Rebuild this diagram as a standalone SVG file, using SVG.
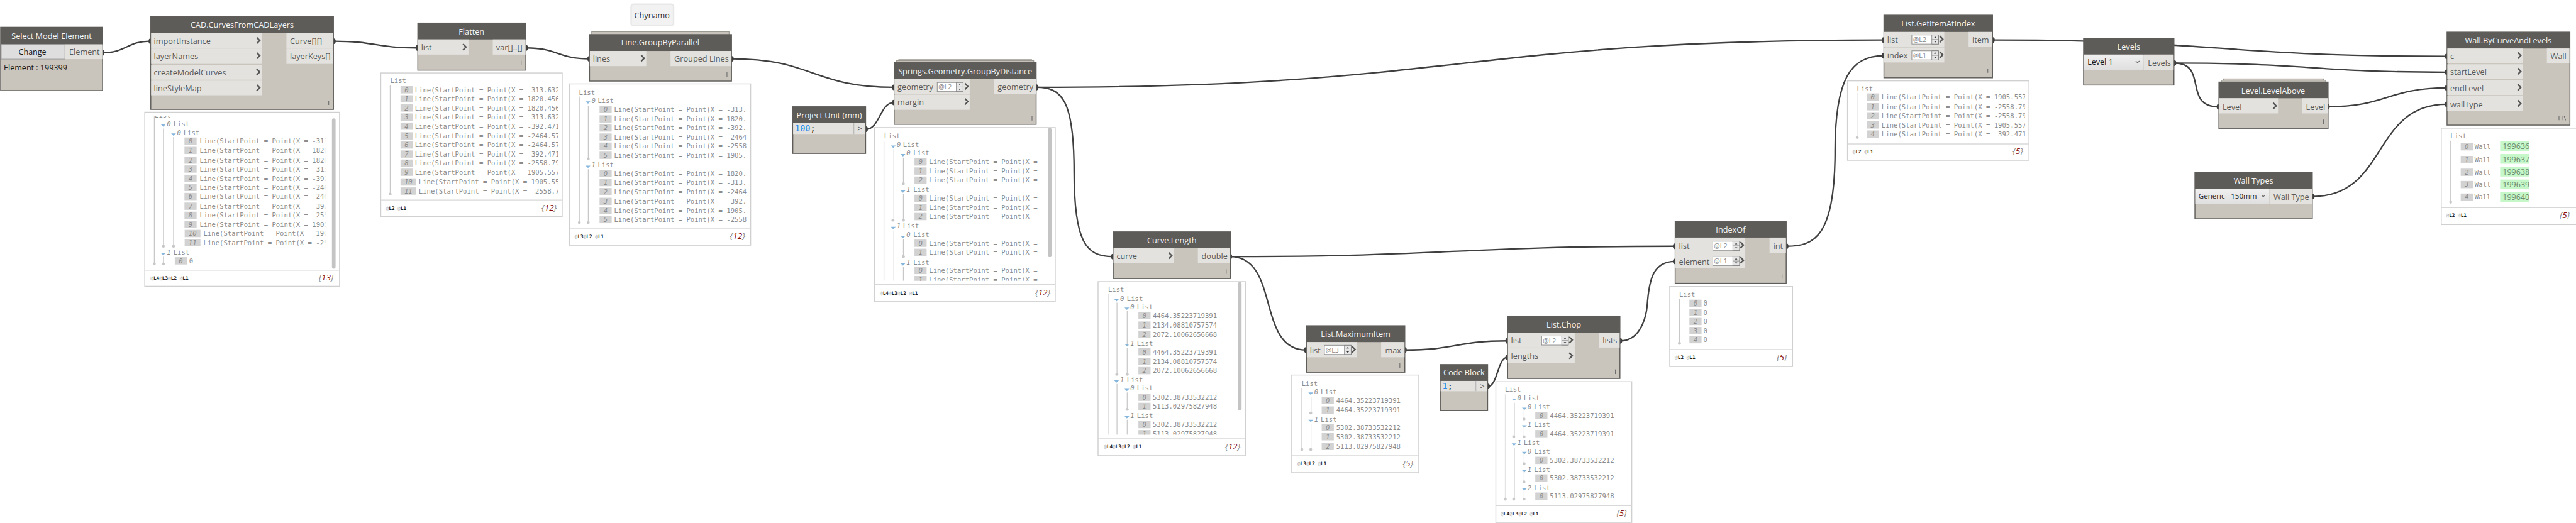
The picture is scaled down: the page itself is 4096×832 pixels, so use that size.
<svg xmlns="http://www.w3.org/2000/svg" width="4096" height="832" viewBox="0 0 4096 832">
<style>
text{white-space:pre}
.b{fill:#c9c5bd;stroke:#5e5c59;stroke-width:1.5}
.s{fill:#c9c5bd;stroke:#9b988f;stroke-width:1.2}
.hd{fill:#5e5c59}
.r{fill:#e3e2de}
.h{font:500 13.2px "Open Sans",sans-serif;fill:#f5f5f5;text-anchor:middle}
.p{font:13.2px "Open Sans",sans-serif;fill:#5a5a5a}
.k{font:13px "Open Sans",sans-serif;fill:#1c1c1c}
.w{fill:#fff;stroke:#d0d0d0;stroke-width:1.5}
.fl{stroke:#d8d8d8;stroke-width:1.5;fill:none}
.m{font:11px "DejaVu Sans Mono",monospace;fill:#8c8c8c}
.n{font:italic 11px "DejaVu Sans Mono",monospace;fill:#8c8c8c;text-anchor:middle}
.f{font:bold 8px "DejaVu Sans Mono",monospace;fill:#222}
.f tspan{fill:#aaa;font-weight:normal}
.c{font:italic 14px "Open Sans",sans-serif;fill:#888;text-anchor:end}
.c tspan{fill:#8b1010}
.v{stroke:#c8c8c8;stroke-width:1.3;fill:none}
.vl{stroke:#e4e4e4;stroke-width:1.3;fill:none}
.lv{fill:#fff;stroke:#8c8c8c;stroke-width:1}
.lt{font:11px "Open Sans",sans-serif;fill:#8a8a8a}
.cd{font:14px "DejaVu Sans Mono",monospace;fill:#222}
.cd tspan{fill:#2a86ee}
.g{fill:#c5f7c8}
.gt{font:13px "Open Sans",sans-serif;fill:#6c8a70}
.lace{stroke:#6e6e6e;stroke-width:1.2;fill:none}
.cn{fill:none;stroke:#3f3f3f;stroke-width:2.4;marker-start:url(#nub);marker-end:url(#nub)}
.sb{fill:#c4c4c4}
</style>
<defs>
<marker id="nub" markerUnits="userSpaceOnUse" markerWidth="10" markerHeight="12" refX="5" refY="6" orient="0"><ellipse cx="5" cy="6" rx="3.2" ry="4.6" fill="#3f3f3f"/></marker>
<path id="chev" d="M-3 -5L2 0L-3 5" fill="none" stroke="#555" stroke-width="2.4"/>
<path id="tri" d="M-4 0H4L0 4Z" fill="#86b6dc"/>
<circle id="d" r="2.4" fill="#c8c8c8"/>
<rect id="ib" x="-10" y="-6" width="20" height="12" fill="#d2d2d2"/>
<rect id="ib2" x="-13" y="-6" width="26" height="12" fill="#d2d2d2"/>
<g id="spin"><rect x="0" y="0" width="11" height="15" fill="#e6e6e6" stroke="#777" stroke-width=".8"/><path d="M0 7.500H11" stroke="#777" stroke-width=".8"/><path d="M3.500 5L5.500 2.500L7.500 5ZM3.500 10L5.500 12.500L7.500 10Z" fill="#333"/></g>
<path id="vee" d="M-3 -1.500L0 1.500L3 -1.500" fill="none" stroke="#666" stroke-width="1.2"/>
<linearGradient id="dd" x1="0" y1="0" x2="0" y2="1"><stop offset="0" stop-color="#f0f0f0"/><stop offset="1" stop-color="#dfdfdf"/></linearGradient>
<clipPath id="c1"><rect x="240" y="191.500" width="296" height="250"/></clipPath>
<clipPath id="c2"><rect x="630" y="125" width="290" height="200"/></clipPath>
<clipPath id="c3"><rect x="940" y="140" width="291" height="235"/></clipPath>
<clipPath id="c4"><rect x="1443" y="212" width="270" height="251"/></clipPath>
<clipPath id="c5"><rect x="1811" y="466" width="225" height="250.700"/></clipPath>
<clipPath id="c6"><rect x="3046" y="135" width="291" height="100"/></clipPath>
</defs>
<g transform="scale(0.9649)">
<g id="connectors">
<path class="cn" d="M169 87C208 87 209 68 248 68"/>
<path class="cn" d="M550 68C619 68 619 79 688 79"/>
<path class="cn" d="M867 79C919 79 919 97 971 97"/>
<path class="cn" d="M1206 97C1340 97 1340 144 1473 144"/>
<path class="cn" d="M1427 213C1450 213 1450 169 1473 169"/>
<path class="cn" d="M1708 144C2406 144 2406 66 3104 66"/>
<path class="cn" d="M1708 144C1750 144 1770 165 1770 283C1770 400 1790 423 1834 423"/>
<path class="cn" d="M2027 423C2394 423 2394 406 2760 406"/>
<path class="cn" d="M2027 423C2110 423 2070 577 2152 577"/>
<path class="cn" d="M2315 577C2400 577 2400 562 2484 562"/>
<path class="cn" d="M2452 637C2468 637 2468 589 2484 589"/>
<path class="cn" d="M2670 562C2700 562 2713 530 2715 497C2718 460 2725 431 2760 431"/>
<path class="cn" d="M2944 406C2990 406 3024 390 3024 249C3024 130 3050 92 3104 92"/>
<path class="cn" d="M3284 66C3658 66 3658 93 4032 93"/>
<path class="cn" d="M3583 104C3808 104 3808 119 4032 119"/>
<path class="cn" d="M3583 104C3640 104 3596 176 3656 176"/>
<path class="cn" d="M3836 176C3934 176 3934 145 4032 145"/>
<path class="cn" d="M3811 324C3935 324 3908 172 4032 172"/>
</g>

<g id="select-model-element">
<rect class="b" x="1" y="45" width="168" height="104.300"/><rect class="hd" x="1" y="45" width="168" height="28.200"/>
<rect x="2" y="73.200" width="105" height="24.300" fill="#dedede" stroke="#999" stroke-width="1"/><rect class="r" x="107.500" y="73.200" width="61" height="24.300"/>
<text class="h" x="85" y="64">Select Model Element</text>
<text class="k" x="53.500" y="90.500" text-anchor="middle">Change</text>
<text class="p" x="114" y="90.500">Element</text>
<text class="k" x="6.300" y="116.500">Element : 199399</text>
</g>

<g id="cad-curves">
<rect class="b" x="248.500" y="27.100" width="301" height="153.300"/><rect class="hd" x="248.500" y="27.100" width="301" height="26.800"/>
<rect class="r" x="249" y="53.900" width="183" height="25.400"/><rect class="r" x="249" y="80" width="183" height="25.400"/><rect class="r" x="249" y="107" width="183" height="24.400"/><rect class="r" x="249" y="132.900" width="183" height="24.200"/>
<rect class="r" x="472" y="53.900" width="77" height="25.400"/><rect class="r" x="472" y="80" width="77" height="25.400"/>
<text class="h" x="399" y="46">CAD.CurvesFromCADLayers</text>
<text class="p" x="253.500" y="72.500">importInstance</text><text class="p" x="253.500" y="97.500">layerNames</text><text class="p" x="253.500" y="124">createModelCurves</text><text class="p" x="253.500" y="150">lineStyleMap</text>
<use href="#chev" x="426" y="66.800"/><use href="#chev" x="426" y="91.800"/><use href="#chev" x="426" y="118.600"/><use href="#chev" x="426" y="144.600"/>
<text class="p" x="477.700" y="72.500">Curve[][]</text><text class="p" x="477.700" y="97.500">layerKeys[]</text>
<path class="lace" d="M541.700 166V173"/>
</g>
<g id="cad-watch">
<rect class="w" x="238.500" y="185" width="321" height="287"/><path class="fl" d="M238.500 445.300H559.500"/>
<g clip-path="url(#c1)">
<text class="m" x="255" y="194">List</text>
<path class="v" d="M254.300 192V435M269.300 212V406M286 226V406M269.300 423V435"/>
<use href="#d" x="269.300" y="406"/><use href="#d" x="286" y="406"/><use href="#d" x="254.300" y="435"/><use href="#d" x="269.300" y="435"/>
<use href="#tri" x="269" y="205"/><text class="n" x="278.300" y="208">0</text><text class="m" x="285.700" y="208">List</text>
<use href="#tri" x="286" y="220"/><text class="n" x="295" y="223">0</text><text class="m" x="302.300" y="223">List</text>
<use href="#ib" x="314" y="232.700"/><text class="n" x="314" y="236.700">0</text><text class="m" x="329" y="236.700">Line(StartPoint = Point(X = -313</text>
<use href="#ib" x="314" y="248"/><text class="n" x="314" y="252">1</text><text class="m" x="329" y="252">Line(StartPoint = Point(X = 1820</text>
<use href="#ib" x="314" y="264"/><text class="n" x="314" y="268">2</text><text class="m" x="329" y="268">Line(StartPoint = Point(X = 1820</text>
<use href="#ib" x="314" y="278.700"/><text class="n" x="314" y="282.700">3</text><text class="m" x="329" y="282.700">Line(StartPoint = Point(X = -313</text>
<use href="#ib" x="314" y="294"/><text class="n" x="314" y="298">4</text><text class="m" x="329" y="298">Line(StartPoint = Point(X = -392</text>
<use href="#ib" x="314" y="309"/><text class="n" x="314" y="313">5</text><text class="m" x="329" y="313">Line(StartPoint = Point(X = -246</text>
<use href="#ib" x="314" y="324"/><text class="n" x="314" y="328">6</text><text class="m" x="329" y="328">Line(StartPoint = Point(X = -246</text>
<use href="#ib" x="314" y="340"/><text class="n" x="314" y="344">7</text><text class="m" x="329" y="344">Line(StartPoint = Point(X = -392</text>
<use href="#ib" x="314" y="355"/><text class="n" x="314" y="359">8</text><text class="m" x="329" y="359">Line(StartPoint = Point(X = -255</text>
<use href="#ib" x="314" y="370"/><text class="n" x="314" y="374">9</text><text class="m" x="329" y="374">Line(StartPoint = Point(X = 1905</text>
<use href="#ib2" x="317.300" y="385"/><text class="n" x="317.300" y="389">10</text><text class="m" x="335.300" y="389">Line(StartPoint = Point(X = 190</text>
<use href="#ib2" x="317.300" y="400"/><text class="n" x="317.300" y="404">11</text><text class="m" x="335.300" y="404">Line(StartPoint = Point(X = -25</text>
<use href="#tri" x="269" y="417"/><text class="n" x="278.300" y="420">1</text><text class="m" x="285.700" y="420">List</text>
<use href="#ib" x="298" y="430"/><text class="n" x="298" y="434">0</text><text class="m" x="311.700" y="434">0</text>
</g>
<rect class="sb" x="547" y="195" width="6" height="248" rx="3"/>
<text class="f" x="248" y="461"><tspan>@</tspan>L4<tspan>@</tspan>L3<tspan>@</tspan>L2 <tspan>@</tspan>L1</text>
<text class="c" x="550" y="462">{<tspan>13</tspan>}</text>
</g>

<g id="flatten">
<rect class="b" x="688.500" y="38" width="178" height="77.700"/><rect class="hd" x="688.500" y="38" width="178" height="27"/>
<rect class="r" x="689" y="65" width="83" height="25"/><rect class="r" x="812" y="65" width="54" height="25"/>
<text class="h" x="777" y="57">Flatten</text>
<text class="p" x="694" y="83">list</text><use href="#chev" x="766" y="77.500"/><text class="p" x="817.500" y="83">var[]..[]</text>
<path class="lace" d="M858.800 100V107.700"/>
</g>
<g id="flatten-watch">
<rect class="w" x="627.500" y="120.300" width="299" height="237"/><path class="fl" d="M627.500 329.700H926.500"/>
<text class="m" x="643" y="137">List</text>
<path class="v" d="M643 141V320"/><use href="#d" x="643" y="320"/>
<g clip-path="url(#c2)">
<use href="#ib" x="670" y="148"/><text class="n" x="670" y="152">0</text><text class="m" x="683.700" y="152">Line(StartPoint = Point(X = -313.632</text>
<use href="#ib" x="670" y="163"/><text class="n" x="670" y="167">1</text><text class="m" x="683.700" y="167">Line(StartPoint = Point(X = 1820.456</text>
<use href="#ib" x="670" y="178"/><text class="n" x="670" y="182">2</text><text class="m" x="683.700" y="182">Line(StartPoint = Point(X = 1820.456</text>
<use href="#ib" x="670" y="193"/><text class="n" x="670" y="197">3</text><text class="m" x="683.700" y="197">Line(StartPoint = Point(X = -313.632</text>
<use href="#ib" x="670" y="208"/><text class="n" x="670" y="212">4</text><text class="m" x="683.700" y="212">Line(StartPoint = Point(X = -392.471</text>
<use href="#ib" x="670" y="224"/><text class="n" x="670" y="228">5</text><text class="m" x="683.700" y="228">Line(StartPoint = Point(X = -2464.57</text>
<use href="#ib" x="670" y="239"/><text class="n" x="670" y="243">6</text><text class="m" x="683.700" y="243">Line(StartPoint = Point(X = -2464.57</text>
<use href="#ib" x="670" y="254"/><text class="n" x="670" y="258">7</text><text class="m" x="683.700" y="258">Line(StartPoint = Point(X = -392.471</text>
<use href="#ib" x="670" y="269"/><text class="n" x="670" y="273">8</text><text class="m" x="683.700" y="273">Line(StartPoint = Point(X = -2558.79</text>
<use href="#ib" x="670" y="284"/><text class="n" x="670" y="288">9</text><text class="m" x="683.700" y="288">Line(StartPoint = Point(X = 1905.557</text>
<use href="#ib2" x="673" y="300"/><text class="n" x="673" y="304">10</text><text class="m" x="690" y="304">Line(StartPoint = Point(X = 1905.55</text>
<use href="#ib2" x="673" y="315"/><text class="n" x="673" y="319">11</text><text class="m" x="690" y="319">Line(StartPoint = Point(X = -2558.7</text>
</g>
<text class="f" x="636" y="346"><tspan>@</tspan>L2 <tspan>@</tspan>L1</text>
<text class="c" x="917.500" y="347">{<tspan>12</tspan>}</text>
</g>

<g id="chynamo">
<rect x="1040" y="7" width="70" height="35" rx="4" fill="#f2f2f2" stroke="#e8e8e8" stroke-width="2.500"/>
<text class="p" x="1074.500" y="30" text-anchor="middle" style="fill:#333">Chynamo</text>
</g>

<g id="line-groupbyparallel">
<rect class="s" x="975" y="52.300" width="226.500" height="8"/>
<rect class="b" x="971.500" y="57" width="234" height="76.700"/><rect class="hd" x="971.500" y="57" width="234" height="27"/>
<rect class="r" x="972" y="84" width="93" height="25"/><rect class="r" x="1105" y="84" width="100" height="25"/>
<text class="h" x="1088" y="75">Line.GroupByParallel</text>
<text class="p" x="977" y="102">lines</text><use href="#chev" x="1059.600" y="96"/><text class="p" x="1111" y="102">Grouped Lines</text>
<path class="lace" d="M1198 119V127"/>
</g>
<g id="groupbyparallel-watch">
<rect class="w" x="938.500" y="138.300" width="298.500" height="266"/><path class="fl" d="M938.500 377.300H1237"/>
<text class="m" x="954" y="156">List</text>
<path class="v" d="M954.700 159V367M969.400 174V262M969.400 279V367"/><use href="#d" x="969.400" y="262"/><use href="#d" x="954.700" y="367"/><use href="#d" x="969.400" y="367"/>
<use href="#tri" x="969" y="167"/><text class="n" x="978" y="170">0</text><text class="m" x="985" y="170">List</text>
<use href="#tri" x="969" y="273"/><text class="n" x="978" y="276">1</text><text class="m" x="985" y="276">List</text>
<g clip-path="url(#c3)">
<use href="#ib" x="998" y="180.300"/><text class="n" x="998" y="184.300">0</text><text class="m" x="1012" y="184.300">Line(StartPoint = Point(X = -313.6</text>
<use href="#ib" x="998" y="196"/><text class="n" x="998" y="200">1</text><text class="m" x="1012" y="200">Line(StartPoint = Point(X = 1820.4</text>
<use href="#ib" x="998" y="211"/><text class="n" x="998" y="215">2</text><text class="m" x="1012" y="215">Line(StartPoint = Point(X = -392.4</text>
<use href="#ib" x="998" y="226"/><text class="n" x="998" y="230">3</text><text class="m" x="1012" y="230">Line(StartPoint = Point(X = -2464</text>
<use href="#ib" x="998" y="241"/><text class="n" x="998" y="245">4</text><text class="m" x="1012" y="245">Line(StartPoint = Point(X = -2558</text>
<use href="#ib" x="998" y="256"/><text class="n" x="998" y="260">5</text><text class="m" x="1012" y="260">Line(StartPoint = Point(X = 1905.5</text>
<use href="#ib" x="998" y="286"/><text class="n" x="998" y="290">0</text><text class="m" x="1012" y="290">Line(StartPoint = Point(X = 1820.4</text>
<use href="#ib" x="998" y="301"/><text class="n" x="998" y="305">1</text><text class="m" x="1012" y="305">Line(StartPoint = Point(X = -313.6</text>
<use href="#ib" x="998" y="316"/><text class="n" x="998" y="320">2</text><text class="m" x="1012" y="320">Line(StartPoint = Point(X = -2464</text>
<use href="#ib" x="998" y="332"/><text class="n" x="998" y="336">3</text><text class="m" x="1012" y="336">Line(StartPoint = Point(X = -392.4</text>
<use href="#ib" x="998" y="347"/><text class="n" x="998" y="351">4</text><text class="m" x="1012" y="351">Line(StartPoint = Point(X = 1905.5</text>
<use href="#ib" x="998" y="362"/><text class="n" x="998" y="366">5</text><text class="m" x="1012" y="366">Line(StartPoint = Point(X = -2558</text>
</g>
<text class="f" x="947" y="393"><tspan>@</tspan>L3<tspan>@</tspan>L2 <tspan>@</tspan>L1</text>
<text class="c" x="1228" y="394">{<tspan>12</tspan>}</text>
</g>

<g id="project-unit">
<rect class="b" x="1306.500" y="176" width="120" height="77"/><rect class="hd" x="1306.500" y="176" width="120" height="27"/>
<rect class="r" x="1307" y="203" width="119" height="18"/><path d="M1407 203V221" stroke="#bbb" stroke-width="1.500"/>
<text class="h" x="1366.500" y="195">Project Unit (mm)</text>
<text class="cd" x="1310" y="217"><tspan>100</tspan>;</text>
<text class="p" x="1417" y="217" text-anchor="middle">&gt;</text>
</g>

<g id="springs-groupbydistance">
<rect class="s" x="1481" y="98.300" width="219" height="6"/><rect class="s" x="1477.500" y="100" width="226" height="6"/>
<rect class="b" x="1473.500" y="103" width="234" height="102"/><rect class="hd" x="1473.500" y="103" width="234" height="27"/>
<rect class="r" x="1474" y="130" width="124" height="25"/><rect class="r" x="1474" y="156" width="124" height="25"/><rect class="r" x="1638" y="130" width="69" height="25"/>
<text class="h" x="1590.500" y="122">Springs.Geometry.GroupByDistance</text>
<text class="p" x="1479" y="148">geometry</text><text class="p" x="1479" y="173.500">margin</text>
<rect class="lv" x="1544.500" y="136" width="42" height="15"/><text class="lt" x="1546.500" y="147.500">@L2</text><use href="#spin" x="1576" y="136"/>
<use href="#chev" x="1593" y="142.500"/><use href="#chev" x="1593" y="167.500"/>
<text class="p" x="1644" y="148">geometry</text>
<path class="lace" d="M1700.700 190.700V198.700"/>
</g>
<g id="springs-watch">
<rect class="w" x="1441" y="210.300" width="298" height="287"/><path class="fl" d="M1441 469.300H1739"/>
<g clip-path="url(#c4)">
<text class="m" x="1457" y="228">List</text>
<path class="v" d="M1456.700 232V463M1488.700 260V303M1488.700 320V363M1488.700 394V423M1488.700 440V463"/>
<path class="vl" d="M1472.700 246V363M1472.700 380V463"/>
<use href="#d" x="1488.700" y="303"/><use href="#d" x="1488.700" y="363"/><use href="#d" x="1471.500" y="363"/><use href="#d" x="1488.700" y="423"/>
<use href="#tri" x="1472" y="240"/><text class="n" x="1481" y="242">0</text><text class="m" x="1488" y="242">List</text>
<use href="#tri" x="1488" y="254"/><text class="n" x="1497" y="256">0</text><text class="m" x="1505" y="256">List</text>
<use href="#ib" x="1517" y="267"/><text class="n" x="1517" y="271">0</text><text class="m" x="1531" y="271">Line(StartPoint = Point(X =</text>
<use href="#ib" x="1517" y="282"/><text class="n" x="1517" y="286">1</text><text class="m" x="1531" y="286">Line(StartPoint = Point(X =</text>
<use href="#ib" x="1517" y="297"/><text class="n" x="1517" y="301">2</text><text class="m" x="1531" y="301">Line(StartPoint = Point(X =</text>
<use href="#tri" x="1488" y="314"/><text class="n" x="1497" y="316">1</text><text class="m" x="1505" y="316">List</text>
<use href="#ib" x="1517" y="327"/><text class="n" x="1517" y="331">0</text><text class="m" x="1531" y="331">Line(StartPoint = Point(X =</text>
<use href="#ib" x="1517" y="342"/><text class="n" x="1517" y="346">1</text><text class="m" x="1531" y="346">Line(StartPoint = Point(X =</text>
<use href="#ib" x="1517" y="357"/><text class="n" x="1517" y="361">2</text><text class="m" x="1531" y="361">Line(StartPoint = Point(X =</text>
<use href="#tri" x="1472" y="374"/><text class="n" x="1481" y="376">1</text><text class="m" x="1488" y="376">List</text>
<use href="#tri" x="1488" y="389"/><text class="n" x="1497" y="391">0</text><text class="m" x="1505" y="391">List</text>
<use href="#ib" x="1517" y="401"/><text class="n" x="1517" y="405">0</text><text class="m" x="1531" y="405">Line(StartPoint = Point(X =</text>
<use href="#ib" x="1517" y="416"/><text class="n" x="1517" y="420">1</text><text class="m" x="1531" y="420">Line(StartPoint = Point(X =</text>
<use href="#tri" x="1488" y="434"/><text class="n" x="1497" y="436">1</text><text class="m" x="1505" y="436">List</text>
<use href="#ib" x="1517" y="446"/><text class="n" x="1517" y="450">0</text><text class="m" x="1531" y="450">Line(StartPoint = Point(X =</text>
<use href="#ib" x="1517" y="461"/><text class="n" x="1517" y="465">1</text><text class="m" x="1531" y="465">Line(StartPoint = Point(X =</text>
</g>
<rect class="sb" x="1727" y="211" width="6" height="213" rx="3"/>
<text class="f" x="1450" y="486"><tspan>@</tspan>L4<tspan>@</tspan>L3<tspan>@</tspan>L2 <tspan>@</tspan>L1</text>
<text class="c" x="1731" y="487">{<tspan>12</tspan>}</text>
</g>

<g id="curve-length">
<rect class="b" x="1834.500" y="382.300" width="193" height="77"/><rect class="hd" x="1834.500" y="382.300" width="193" height="26.700"/>
<rect class="r" x="1835" y="409" width="99" height="25"/><rect class="r" x="1974" y="409" width="53" height="25"/>
<text class="h" x="1931" y="401">Curve.Length</text>
<text class="p" x="1840" y="427">curve</text><use href="#chev" x="1929" y="421.500"/><text class="p" x="1980" y="427">double</text>
<path class="lace" d="M2020.700 444V451.700"/>
</g>
<g id="curve-length-watch">
<rect class="w" x="1809.500" y="464.300" width="243" height="287"/><path class="fl" d="M1809.500 723.300H2052.500"/>
<g clip-path="url(#c5)">
<text class="m" x="1826" y="481">List</text>
<path class="v" d="M1826 485V717M1840.700 499V617M1840.700 633V717M1857.500 513V570M1857.500 573V617M1857.500 647V676M1857.500 692V717"/>
<use href="#d" x="1857.500" y="569"/><use href="#d" x="1857.500" y="617"/><use href="#d" x="1840.500" y="617"/><use href="#d" x="1857.500" y="675"/>
<use href="#tri" x="1840" y="493"/><text class="n" x="1849" y="496">0</text><text class="m" x="1857" y="496">List</text>
<use href="#tri" x="1857" y="507"/><text class="n" x="1866" y="510">0</text><text class="m" x="1873.600" y="510">List</text>
<use href="#ib" x="1886" y="520"/><text class="n" x="1886" y="524">0</text><text class="m" x="1899.600" y="524">4464.35223719391</text>
<use href="#ib" x="1886" y="536"/><text class="n" x="1886" y="540">1</text><text class="m" x="1899.600" y="540">2134.08810757574</text>
<use href="#ib" x="1886" y="551"/><text class="n" x="1886" y="555">2</text><text class="m" x="1899.600" y="555">2072.10062656668</text>
<use href="#tri" x="1857" y="567"/><text class="n" x="1866" y="570">1</text><text class="m" x="1873.600" y="570">List</text>
<use href="#ib" x="1886" y="580"/><text class="n" x="1886" y="584">0</text><text class="m" x="1899.600" y="584">4464.35223719391</text>
<use href="#ib" x="1886" y="596"/><text class="n" x="1886" y="600">1</text><text class="m" x="1899.600" y="600">2134.08810757574</text>
<use href="#ib" x="1886" y="611"/><text class="n" x="1886" y="615">2</text><text class="m" x="1899.600" y="615">2072.10062656668</text>
<use href="#tri" x="1840" y="627"/><text class="n" x="1849" y="630">1</text><text class="m" x="1857" y="630">List</text>
<use href="#tri" x="1857" y="641"/><text class="n" x="1866" y="644">0</text><text class="m" x="1873.600" y="644">List</text>
<use href="#ib" x="1886" y="655"/><text class="n" x="1886" y="659">0</text><text class="m" x="1899.600" y="659">5302.38733532212</text>
<use href="#ib" x="1886" y="670"/><text class="n" x="1886" y="674">1</text><text class="m" x="1899.600" y="674">5113.02975827948</text>
<use href="#tri" x="1857" y="686"/><text class="n" x="1866" y="689">1</text><text class="m" x="1873.600" y="689">List</text>
<use href="#ib" x="1886" y="700"/><text class="n" x="1886" y="704">0</text><text class="m" x="1899.600" y="704">5302.38733532212</text>
<use href="#ib" x="1886" y="715"/><text class="n" x="1886" y="719">1</text><text class="m" x="1899.600" y="719">5113.02975827948</text>
</g>
<rect class="sb" x="2040" y="465" width="6" height="212" rx="3"/>
<text class="f" x="1819" y="739"><tspan>@</tspan>L4<tspan>@</tspan>L3<tspan>@</tspan>L2 <tspan>@</tspan>L1</text>
<text class="c" x="2044" y="741">{<tspan>12</tspan>}</text>
</g>

<g id="list-maximumitem">
<rect class="b" x="2153" y="537" width="162" height="76.700"/><rect class="hd" x="2153" y="537" width="162" height="27"/>
<rect class="r" x="2153.500" y="564" width="82.500" height="25"/><rect class="r" x="2276" y="564" width="38.500" height="25"/>
<text class="h" x="2234" y="555">List.MaximumItem</text>
<text class="p" x="2158.600" y="582">list</text>
<rect class="lv" x="2182.500" y="569.300" width="44" height="15"/><text class="lt" x="2184.500" y="581">@L3</text><use href="#spin" x="2215.500" y="569.300"/>
<use href="#chev" x="2231" y="576"/><text class="p" x="2282.500" y="582">max</text>
<path class="lace" d="M2306.800 599V606.700"/>
</g>
<g id="maximumitem-watch">
<rect class="w" x="2128.600" y="618.300" width="209.400" height="161"/><path class="fl" d="M2128.600 751.300H2338"/>
<text class="m" x="2145" y="636">List</text>
<path class="v" d="M2145.300 640V741M2160.500 654V681"/><path class="vl" d="M2160.500 699V741"/><use href="#d" x="2160" y="681"/><use href="#d" x="2145.300" y="741"/><use href="#d" x="2160" y="741"/>
<use href="#tri" x="2160" y="647"/><text class="n" x="2169" y="650">0</text><text class="m" x="2176.400" y="650">List</text>
<use href="#ib" x="2188" y="660"/><text class="n" x="2188" y="664">0</text><text class="m" x="2202" y="664">4464.35223719391</text>
<use href="#ib" x="2188" y="676"/><text class="n" x="2188" y="680">1</text><text class="m" x="2202" y="680">4464.35223719391</text>
<use href="#tri" x="2160" y="692"/><text class="n" x="2169" y="695">1</text><text class="m" x="2176.400" y="695">List</text>
<use href="#ib" x="2188" y="705"/><text class="n" x="2188" y="709">0</text><text class="m" x="2202" y="709">5302.38733532212</text>
<use href="#ib" x="2188" y="720"/><text class="n" x="2188" y="724">1</text><text class="m" x="2202" y="724">5302.38733532212</text>
<use href="#ib" x="2188" y="736"/><text class="n" x="2188" y="740">2</text><text class="m" x="2202" y="740">5113.02975827948</text>
<text class="f" x="2138" y="767"><tspan>@</tspan>L3<tspan>@</tspan>L2 <tspan>@</tspan>L1</text>
<text class="c" x="2329" y="769">{<tspan>5</tspan>}</text>
</g>

<g id="code-block">
<rect class="b" x="2373.500" y="601" width="78" height="76"/><rect class="hd" x="2373.500" y="601" width="78" height="27"/>
<rect class="r" x="2374" y="628" width="77" height="17"/><path d="M2432 628V645" stroke="#bbb" stroke-width="1.500"/>
<text class="h" x="2412.500" y="619">Code Block</text>
<text class="cd" x="2377" y="642"><tspan>1</tspan>;</text>
<text class="p" x="2442.700" y="641" text-anchor="middle">&gt;</text>
</g>

<g id="list-chop">
<rect class="b" x="2484.500" y="521" width="185" height="103"/><rect class="hd" x="2484.500" y="521" width="185" height="28"/>
<rect class="r" x="2485" y="549" width="110" height="24"/><rect class="r" x="2485" y="574" width="110" height="25"/><rect class="r" x="2635" y="549" width="34" height="24"/>
<text class="h" x="2577" y="540">List.Chop</text>
<text class="p" x="2490" y="566">list</text><text class="p" x="2490" y="592">lengths</text>
<rect class="lv" x="2540.500" y="554" width="44" height="15"/><text class="lt" x="2542.500" y="566">@L2</text><use href="#spin" x="2573.500" y="554"/>
<use href="#chev" x="2589" y="560.500"/><use href="#chev" x="2589" y="586.500"/><text class="p" x="2641" y="566">lists</text>
<path class="lace" d="M2662 609V616.700"/>
</g>
<g id="chop-watch">
<rect class="w" x="2465" y="629.300" width="224" height="232"/><path class="fl" d="M2465 833.600H2689"/>
<text class="m" x="2480" y="646">List</text>
<path class="vl" d="M2480.500 650V823M2511.500 674V690M2511.500 704V720M2511.500 748V764M2511.500 778V794M2511.500 808V823"/><path class="v" d="M2495.500 664V720M2495.500 738V823"/>
<use href="#d" x="2511.500" y="690.700"/><use href="#d" x="2511.500" y="720"/><use href="#d" x="2494.500" y="720"/><use href="#d" x="2511.500" y="764.500"/><use href="#d" x="2511.500" y="794.500"/><use href="#d" x="2480.500" y="823"/><use href="#d" x="2494.500" y="823"/><use href="#d" x="2511.500" y="823"/>
<use href="#tri" x="2495" y="657"/><text class="n" x="2503.500" y="660">0</text><text class="m" x="2511" y="660">List</text>
<use href="#tri" x="2512" y="672"/><text class="n" x="2520.500" y="675">0</text><text class="m" x="2528" y="675">List</text>
<use href="#ib" x="2540" y="685"/><text class="n" x="2540" y="689">0</text><text class="m" x="2554" y="689">4464.35223719391</text>
<use href="#tri" x="2512" y="701"/><text class="n" x="2520.500" y="704">1</text><text class="m" x="2528" y="704">List</text>
<use href="#ib" x="2540" y="715"/><text class="n" x="2540" y="719">0</text><text class="m" x="2554" y="719">4464.35223719391</text>
<use href="#tri" x="2495" y="731"/><text class="n" x="2503.500" y="734">1</text><text class="m" x="2511" y="734">List</text>
<use href="#tri" x="2512" y="745"/><text class="n" x="2520.500" y="748">0</text><text class="m" x="2528" y="748">List</text>
<use href="#ib" x="2540" y="759"/><text class="n" x="2540" y="763">0</text><text class="m" x="2554" y="763">5302.38733532212</text>
<use href="#tri" x="2512" y="775"/><text class="n" x="2520.500" y="778">1</text><text class="m" x="2528" y="778">List</text>
<use href="#ib" x="2540" y="788"/><text class="n" x="2540" y="792">0</text><text class="m" x="2554" y="792">5302.38733532212</text>
<use href="#tri" x="2512" y="805"/><text class="n" x="2520.500" y="808">2</text><text class="m" x="2528" y="808">List</text>
<use href="#ib" x="2540" y="818"/><text class="n" x="2540" y="822">0</text><text class="m" x="2554" y="822">5113.02975827948</text>
<text class="f" x="2473" y="850"><tspan>@</tspan>L4<tspan>@</tspan>L3<tspan>@</tspan>L2 <tspan>@</tspan>L1</text>
<text class="c" x="2681" y="851">{<tspan>5</tspan>}</text>
</g>

<g id="indexof">
<rect class="b" x="2760.500" y="365" width="183" height="102"/><rect class="hd" x="2760.500" y="365" width="183" height="26.700"/>
<rect class="r" x="2761" y="391.700" width="115" height="50"/><rect class="r" x="2916" y="391.700" width="27" height="25"/>
<text class="h" x="2852" y="383">IndexOf</text>
<text class="p" x="2766.700" y="410">list</text><text class="p" x="2766.700" y="436">element</text>
<rect class="lv" x="2822.500" y="397.700" width="44" height="15"/><text class="lt" x="2824.500" y="409.500">@L2</text><use href="#spin" x="2855.500" y="397.700"/>
<rect class="lv" x="2822.500" y="422.700" width="44" height="15"/><text class="lt" x="2824.500" y="434.500">@L1</text><use href="#spin" x="2855.500" y="422.700"/>
<use href="#chev" x="2871" y="404"/><use href="#chev" x="2871" y="429"/><text class="p" x="2922" y="410">int</text>
<path class="lace" d="M2936.700 452.700V459.300"/>
</g>
<g id="indexof-watch">
<rect class="w" x="2751.500" y="472.300" width="202.500" height="132"/><path class="fl" d="M2751.500 576.300H2954"/>
<text class="m" x="2767" y="489">List</text>
<path class="v" d="M2767.500 493V566"/><use href="#d" x="2767.500" y="566"/>
<use href="#ib" x="2794" y="500"/><text class="n" x="2794" y="504">0</text><text class="m" x="2807" y="504">0</text>
<use href="#ib" x="2794" y="515"/><text class="n" x="2794" y="519">1</text><text class="m" x="2807" y="519">0</text>
<use href="#ib" x="2794" y="530"/><text class="n" x="2794" y="534">2</text><text class="m" x="2807" y="534">0</text>
<use href="#ib" x="2794" y="545"/><text class="n" x="2794" y="549">3</text><text class="m" x="2807" y="549">0</text>
<use href="#ib" x="2794" y="560"/><text class="n" x="2794" y="564">4</text><text class="m" x="2807" y="564">0</text>
<text class="f" x="2760" y="592"><tspan>@</tspan>L2 <tspan>@</tspan>L1</text>
<text class="c" x="2945" y="594">{<tspan>5</tspan>}</text>
</g>

<g id="list-getitematindex">
<rect class="b" x="3104.500" y="25" width="179" height="103.300"/><rect class="hd" x="3104.500" y="25" width="179" height="27.700"/>
<rect class="r" x="3105" y="52.700" width="99" height="24.600"/><rect class="r" x="3105" y="78.300" width="99" height="24.700"/><rect class="r" x="3244" y="52.700" width="39" height="24.600"/>
<text class="h" x="3194" y="44">List.GetItemAtIndex</text>
<text class="p" x="3110" y="70.500">list</text><text class="p" x="3110" y="96.500">index</text>
<rect class="lv" x="3150.500" y="57.700" width="44" height="15"/><text class="lt" x="3152.500" y="69.500">@L2</text><use href="#spin" x="3183.500" y="57.700"/>
<rect class="lv" x="3150.500" y="83.700" width="44" height="15"/><text class="lt" x="3152.500" y="95.500">@L1</text><use href="#spin" x="3183.500" y="83.700"/>
<use href="#chev" x="3199.600" y="64.500"/><use href="#chev" x="3199.600" y="90.500"/><text class="p" x="3250" y="70.500">item</text>
<path class="lace" d="M3275.700 113.300V120"/>
</g>
<g id="getitem-watch">
<rect class="w" x="3044.500" y="133.300" width="299" height="131"/><path class="fl" d="M3044.500 237.300H3343.500"/>
<text class="m" x="3060" y="150">List</text>
<path class="vl" d="M3060.500 153V226"/><use href="#d" x="3060.500" y="226.700"/>
<g clip-path="url(#c6)">
<use href="#ib" x="3086" y="160"/><text class="n" x="3086" y="164">0</text><text class="m" x="3100.700" y="164">Line(StartPoint = Point(X = 1905.557</text>
<use href="#ib" x="3086" y="176"/><text class="n" x="3086" y="180">1</text><text class="m" x="3100.700" y="180">Line(StartPoint = Point(X = -2558.79</text>
<use href="#ib" x="3086" y="191"/><text class="n" x="3086" y="195">2</text><text class="m" x="3100.700" y="195">Line(StartPoint = Point(X = -2558.79</text>
<use href="#ib" x="3086" y="206"/><text class="n" x="3086" y="210">3</text><text class="m" x="3100.700" y="210">Line(StartPoint = Point(X = 1905.557</text>
<use href="#ib" x="3086" y="221"/><text class="n" x="3086" y="225">4</text><text class="m" x="3100.700" y="225">Line(StartPoint = Point(X = -392.471</text>
</g>
<text class="f" x="3053" y="253"><tspan>@</tspan>L2 <tspan>@</tspan>L1</text>
<text class="c" x="3334" y="254">{<tspan>5</tspan>}</text>
</g>

<g id="levels">
<rect class="b" x="3433.500" y="63" width="149" height="77.300"/><rect class="hd" x="3433.500" y="63" width="149" height="27"/>
<rect x="3434" y="90" width="98.500" height="25.300" fill="url(#dd)"/><rect class="r" x="3533" y="90" width="49" height="25.300"/>
<text class="h" x="3508" y="82">Levels</text>
<text class="k" x="3440" y="106.500">Level 1</text><use href="#vee" x="3522.500" y="102"/>
<text class="p" x="3539.600" y="109">Levels</text>
</g>

<g id="level-levelabove">
<rect class="s" x="3664" y="130" width="165" height="6"/><rect class="s" x="3660.500" y="132.300" width="172" height="6"/>
<rect class="b" x="3656.500" y="135.300" width="180" height="77"/><rect class="hd" x="3656.500" y="135.300" width="180" height="26.700"/>
<rect class="r" x="3657" y="162" width="97" height="25"/><rect class="r" x="3794" y="162" width="42" height="25"/>
<text class="h" x="3746" y="154">Level.LevelAbove</text>
<text class="p" x="3662.500" y="181">Level</text><use href="#chev" x="3749" y="174.500"/><text class="p" x="3800" y="181">Level</text>
<path class="lace" d="M3829 197.300V204.700"/>
</g>

<g id="wall-types">
<rect class="b" x="3617" y="284.300" width="193.500" height="76.400"/><rect class="hd" x="3617" y="284.300" width="193.500" height="26.700"/>
<rect x="3617.500" y="311" width="122" height="25.300" fill="url(#dd)"/><rect class="r" x="3740" y="311" width="70" height="25.300"/>
<text class="h" x="3713.500" y="303">Wall Types</text>
<text class="k" x="3623" y="327.500" style="font-size:12px">Generic - 150mm</text><use href="#vee" x="3729.600" y="323"/>
<text class="p" x="3746.400" y="329.500">Wall Type</text>
</g>

<g id="wall-bycurveandlevels">
<rect class="b" x="4032.500" y="53" width="202.500" height="153.300"/><rect class="hd" x="4032.500" y="53" width="202.500" height="27"/>
<rect class="r" x="4033" y="80" width="124" height="24.700"/><rect class="r" x="4033" y="106" width="124" height="24"/><rect class="r" x="4033" y="132" width="124" height="24.700"/><rect class="r" x="4033" y="158" width="124" height="25"/><rect class="r" x="4197" y="80" width="37" height="24.700"/>
<text class="h" x="4133.500" y="71">Wall.ByCurveAndLevels</text>
<text class="p" x="4037.700" y="97.500">c</text><text class="p" x="4037.700" y="123.500">startLevel</text><text class="p" x="4037.700" y="150">endLevel</text><text class="p" x="4037.700" y="177">wallType</text>
<use href="#chev" x="4152" y="91.500"/><use href="#chev" x="4152" y="117.500"/><use href="#chev" x="4152" y="144"/><use href="#chev" x="4152" y="170.500"/>
<text class="p" x="4203" y="97.500">Wall</text>
<path class="lace" d="M4217 191.300V198.300M4222 191.300V198.300M4225.500 191.300L4228 198.300"/>
</g>
<g id="wall-watch">
<rect class="w" x="4023" y="211.300" width="230" height="159"/><path class="fl" d="M4023 342.300H4250"/>
<text class="m" x="4038" y="228">List</text>
<path class="v" d="M4038.500 232V333"/><use href="#d" x="4038.500" y="333.300"/>
<use href="#ib" x="4065" y="242"/><text class="n" x="4065" y="246">0</text><text class="m" x="4078" y="246">Wall</text><rect class="g" x="4120" y="233" width="48" height="16"/><text class="gt" x="4124" y="246">199636</text>
<use href="#ib" x="4065" y="263"/><text class="n" x="4065" y="267">1</text><text class="m" x="4078" y="267">Wall</text><rect class="g" x="4120" y="254" width="48" height="16"/><text class="gt" x="4124" y="267">199637</text>
<use href="#ib" x="4065" y="284"/><text class="n" x="4065" y="288">2</text><text class="m" x="4078" y="288">Wall</text><rect class="g" x="4120" y="275" width="48" height="16"/><text class="gt" x="4124" y="288">199638</text>
<use href="#ib" x="4065" y="304.300"/><text class="n" x="4065" y="308.300">3</text><text class="m" x="4078" y="308.300">Wall</text><rect class="g" x="4120" y="296" width="48" height="16"/><text class="gt" x="4124" y="309">199639</text>
<use href="#ib" x="4065" y="325"/><text class="n" x="4065" y="329">4</text><text class="m" x="4078" y="329">Wall</text><rect class="g" x="4120" y="317" width="48" height="16"/><text class="gt" x="4124" y="330">199640</text>
<text class="f" x="4031" y="358"><tspan>@</tspan>L2 <tspan>@</tspan>L1</text>
<text class="c" x="4235" y="360">{<tspan>5</tspan>}</text>
</g>
</g>
</svg>
